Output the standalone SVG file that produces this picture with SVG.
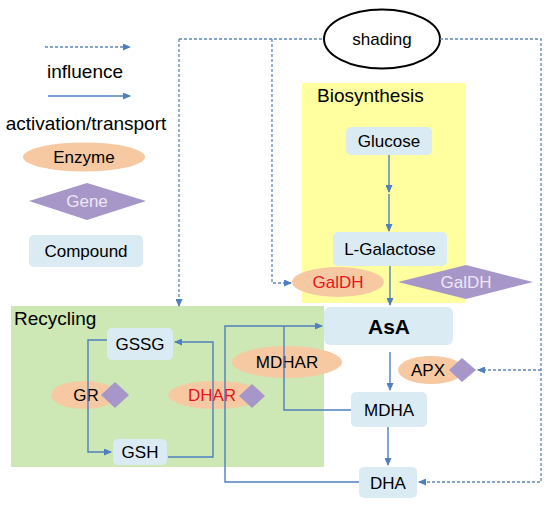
<svg xmlns="http://www.w3.org/2000/svg" width="550" height="510" viewBox="0 0 550 510">
<defs>
<marker id="ah" markerWidth="8" markerHeight="7" refX="7" refY="3.5" orient="auto" markerUnits="userSpaceOnUse">
<path d="M0,0 L8,3.5 L0,7 z" fill="#4F7FBE"/>
</marker>
<style>
.t{font-family:"Liberation Sans",Arial,sans-serif;fill:#000;}
.lg{font-size:19px;}
.lb{font-size:17px;text-anchor:middle;}
.cmp{fill:#DAEBF4;}
.enz{fill:#F7C9A3;}
.gene{fill:#A797C8;}
.sol{fill:none;stroke:#4F7FBE;stroke-width:1.4;}
.dsh{fill:none;stroke:#5F87B8;stroke-width:1.3;stroke-dasharray:3 2;}
</style>
</defs>
<rect x="0" y="0" width="550" height="510" fill="#fff"/>

<g id="regions">
<rect x="302" y="83" width="163" height="220" fill="#FFFF9F"/>
<rect x="11" y="306" width="313" height="161" fill="#CDE7B5"/>
<text class="t lg" x="317" y="102">Biosynthesis</text>
<text class="t lg" x="14" y="325">Recycling</text>
</g>

<g id="legend">
<line class="dsh" x1="45" y1="47" x2="130" y2="47" marker-end="url(#ah)"/>
<text class="t lg" x="85" y="78" text-anchor="middle">influence</text>
<line class="sol" x1="48" y1="96" x2="130" y2="96" marker-end="url(#ah)"/>
<text class="t lg" x="86" y="130" text-anchor="middle">activation/transport</text>
<ellipse class="enz" cx="84" cy="157" rx="61" ry="14.5"/>
<text class="t lb" x="84" y="163">Enzyme</text>
<polygon class="gene" points="29,201 87,183 146,201 87,220"/>
<text class="t lb" x="87" y="207" style="fill:#EDE8F5">Gene</text>
<rect class="cmp" x="29" y="235" width="114" height="32" rx="5"/>
<text class="t lb" x="86" y="257">Compound</text>
</g>

<g id="shading">
<ellipse cx="382" cy="39" rx="58" ry="29.5" fill="#fff" stroke="#000" stroke-width="2"/>
<text class="t lb" x="382" y="45">shading</text>
</g>

<g id="glucose">
<rect class="cmp" x="346" y="127" width="86" height="28" rx="5"/>
<text class="t lb" x="389" y="147">Glucose</text>
</g>
<g id="lgalactose">
<rect class="cmp" x="333" y="232" width="114" height="34" rx="5"/>
<text class="t lb" x="390" y="255">L-Galactose</text>
</g>
<g id="galdh-enzyme">
<ellipse class="enz" cx="338" cy="282" rx="46" ry="15"/>
<text class="t lb" x="338" y="288" style="fill:#E8141B">GalDH</text>
</g>
<g id="galdh-gene">
<polygon class="gene" points="398,282 466,265 533,282 466,299"/>
<text class="t lb" x="466" y="288" style="fill:#EDE8F5">GalDH</text>
</g>
<g id="asa">
<rect class="cmp" x="324" y="307" width="129" height="38" rx="6"/>
<text class="t" x="389" y="334" font-size="21" font-weight="bold" text-anchor="middle">AsA</text>
</g>
<g id="mdhar">
<ellipse class="enz" cx="287" cy="362" rx="55" ry="16"/>
<text class="t lb" x="287" y="368">MDHAR</text>
</g>
<g id="apx">
<ellipse class="enz" cx="431" cy="370" rx="33" ry="14"/>
<text class="t lb" x="428" y="376">APX</text>
<polygon class="gene" points="449,370 462,358 476,370 462,382"/>
</g>
<g id="mdha">
<rect class="cmp" x="351" y="392" width="76" height="35" rx="5"/>
<text class="t lb" x="389" y="416">MDHA</text>
</g>
<g id="dha">
<rect class="cmp" x="359" y="467" width="58" height="31" rx="5"/>
<text class="t lb" x="388" y="489">DHA</text>
</g>
<g id="gssg">
<rect class="cmp" x="107" y="328" width="66" height="32" rx="5"/>
<text class="t lb" x="140" y="350">GSSG</text>
</g>
<g id="gsh">
<rect class="cmp" x="113" y="439" width="54" height="26" rx="5"/>
<text class="t lb" x="140" y="458">GSH</text>
</g>
<g id="gr">
<ellipse class="enz" cx="84" cy="395" rx="33" ry="14"/>
<text class="t lb" x="86" y="401">GR</text>
<polygon class="gene" points="101,395 115,382 129,395 115,408"/>
</g>
<g id="dhar">
<ellipse class="enz" cx="215" cy="395" rx="47" ry="14"/>
<text class="t lb" x="212" y="401" style="fill:#E8141B">DHAR</text>
<polygon class="gene" points="239,396 252,384 265,396 252,408"/>
</g>

<g id="connectors">
<line class="sol" x1="389" y1="155" x2="389" y2="192" marker-end="url(#ah)"/>
<line class="sol" x1="389" y1="194" x2="389" y2="231" marker-end="url(#ah)"/>
<line class="sol" x1="390" y1="266" x2="390" y2="305" marker-end="url(#ah)"/>
<line class="sol" x1="390" y1="352" x2="390" y2="390" marker-end="url(#ah)"/>
<line class="sol" x1="388" y1="427" x2="388" y2="465" marker-end="url(#ah)"/>
<path class="sol" d="M359,482 H225 V326 H322" marker-end="url(#ah)"/>
<path class="sol" d="M351,410 H284 V326"/>
<path class="sol" d="M107,340 H88 V452 H111" marker-end="url(#ah)"/>
<path class="sol" d="M168,457 H213 V342 H175" marker-end="url(#ah)"/>
<line class="dsh" x1="179" y1="39" x2="324" y2="39"/>
<line class="dsh" x1="179" y1="39" x2="179" y2="306" marker-end="url(#ah)"/>
<path class="dsh" d="M272,39 V283 H291" marker-end="url(#ah)"/>
<path class="dsh" d="M440,39 H541 V482 H419" marker-end="url(#ah)"/>
<line class="dsh" x1="541" y1="370" x2="478" y2="370" marker-end="url(#ah)"/>
</g>
</svg>
